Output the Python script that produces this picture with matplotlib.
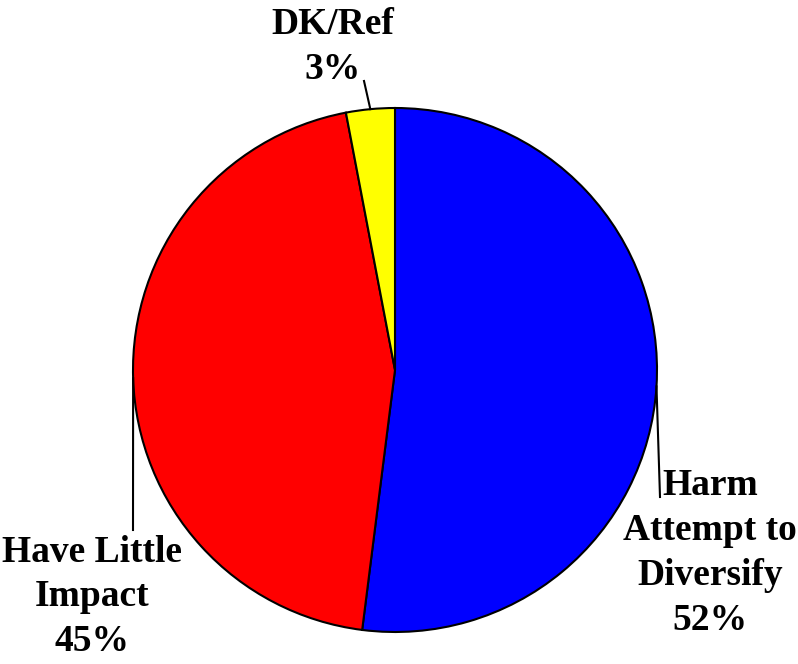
import numpy as np
import matplotlib
matplotlib.use("Agg")
import matplotlib.pyplot as plt

labels = ["Harm\nAttempt to\nDiversify", "Have Little\nImpact", "DK/Ref"]
values = [52, 45, 3]
colors = ["#0000FF", "#FF0000", "#FFFF00"]

W, H = 798, 664
fig = plt.figure(figsize=(W / 100, H / 100), dpi=100)
ax = fig.add_axes([0, 0, 1, 1])

cx, cy, r = 395, H - 370, 262
wedges, _ = ax.pie(values, colors=colors, startangle=90, counterclock=False,
                   center=(cx, cy), radius=r, frame=True,
                   wedgeprops=dict(edgecolor="black", linewidth=1.5))
ax.set_xlim(0, W)
ax.set_ylim(0, H)
ax.set_aspect("equal")
ax.axis("off")

# label positions and leader-line ends (pixels from top-left)
text_pos = [(710, 553), (92, 597), (333, 47)]
line_end = [(660, 497), (133, 530), (364, 81)]
for w, lab, v, tp, le in zip(wedges, labels, values, text_pos, line_end):
    ang = np.deg2rad((w.theta1 + w.theta2) / 2)
    px = cx + r * np.cos(ang)
    py = cy + r * np.sin(ang)
    ax.plot([px, le[0]], [py, H - le[1]], color="black", lw=1.5)
    ax.text(tp[0], H - tp[1], f"{lab}\n{v}%", ha="center", va="center",
            fontsize=27, fontweight="bold", family="Liberation Serif",
            linespacing=1.37)

fig.savefig("out.png", dpi=100)
